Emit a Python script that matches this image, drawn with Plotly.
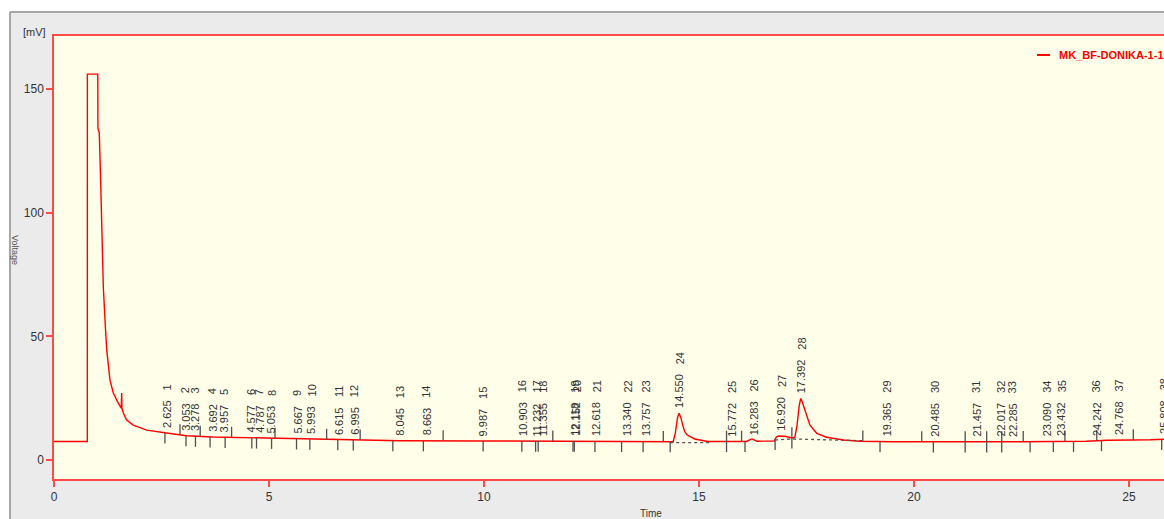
import numpy as np
import plotly.graph_objects as go

# ---------------- data ----------------
time_min = [0.0, 0.775, 0.776, 1.007, 1.018, 1.022, 1.053, 1.086, 1.109, 1.133, 1.147, 1.186,
            1.226, 1.302, 1.379, 1.495, 1.565, 1.574, 1.58, 1.612, 1.69, 1.844, 2.156, 2.62,
            3.086, 3.70, 4.79, 6.0, 8.05, 10.0, 12.0, 14.40, 14.45, 14.50, 14.535, 14.58,
            14.63, 14.67, 14.72, 14.79, 14.90, 15.02, 15.20, 16.10, 16.23, 16.35, 16.75,
            16.80, 16.85, 17.00, 17.08, 17.16, 17.23, 17.28, 17.33, 17.365, 17.40, 17.47,
            17.58, 17.74, 17.97, 18.36, 18.74, 19.50, 21.0, 22.5, 24.0, 24.5, 25.5, 25.82]
voltage_mv = [7.5, 7.5, 156.0, 156.0, 156.0, 134.0, 132.2, 112.0, 97.0, 80.8, 69.9, 56.6,
              44.5, 32.3, 27.1, 23.0, 21.0, 27.1, 21.0, 19.0, 16.2, 14.1, 12.1, 10.9,
              9.8, 9.3, 8.9, 8.4, 7.8, 7.7, 7.6, 7.4, 11.0, 17.0, 18.9, 17.0,
              13.5, 11.4, 10.2, 9.4, 8.5, 8.1, 7.5, 7.5, 8.5, 7.6, 7.7,
              9.3, 9.7, 9.6, 9.1, 8.9, 9.2, 14.0, 22.0, 24.9, 23.5, 19.5,
              14.1, 10.8, 9.2, 8.1, 7.6, 7.4, 7.3, 7.4, 7.6, 8.0, 8.2, 8.4]

peak_numbers = list(range(1, 39))
peak_times = ["2.625", "3.053", "3.278", "3.692", "3.957", "4.577", "4.787", "5.053",
              "5.667", "5.993", "6.615", "6.995", "8.045", "8.663", "9.987", "10.903",
              "11.232", "11.355", "12.118", "12.152", "12.618", "13.340", "13.757", "14.550",
              "15.772", "16.283", "16.920", "17.392", "19.365", "20.485", "21.457", "22.017",
              "22.285", "23.090", "23.432", "24.242", "24.768", "25.808"]

marks_below = [2.58, 3.07, 3.29, 3.63, 3.98, 4.60, 4.71, 5.06, 5.64, 5.95, 6.60, 6.96, 7.88,
               8.59, 9.98, 10.88, 11.20, 11.26, 12.07, 12.10, 12.58, 13.20, 13.70, 14.33,
               15.64, 16.07, 16.77, 17.16, 19.21, 20.45, 21.19, 21.69, 22.04, 22.70, 23.24,
               23.71, 24.36, 25.76]
marks_above = [2.93, 3.40, 4.13, 5.14, 6.34, 7.12, 9.05, 11.60, 14.17, 15.64, 15.99, 17.16,
               18.81, 20.18, 21.19, 21.69, 22.04, 22.54, 23.51, 24.25, 25.10]

baseline_a_x = [14.33, 15.26]
baseline_a_y = [7.0, 7.0]
baseline_b_x = [16.77, 17.16, 18.81]
baseline_b_y = [8.1, 8.5, 7.8]

x_ticks = [0, 5, 10, 15, 20, 25]
y_ticks = [0, 50, 100, 150]
series_name = "MK_BF-DONIKA-1-1"

# ---------------- layout geometry ----------------
W, H = 1164, 519
L, T, B, R = 54, 36, 40, 0
PW, PH = W - L - R, H - T - B
X_RANGE = [0, 25.814]
Y_RANGE = [-7.68, 171.4]

def px_x(px):
    return (px - L) / PW

def px_y(py):
    return (H - B - py) / PH

RED = "#ff0000"
BORDER = "#ff4a4a"
FONT = "Liberation Sans, Arial, sans-serif"
TXT = "#333333"

fig = go.Figure()

# chromatogram
fig.add_trace(go.Scatter(x=time_min, y=voltage_mv, mode="lines",
                         line=dict(color=RED, width=1.4), name=series_name,
                         showlegend=False, hoverinfo="skip"))

# dotted baselines
for bx, by in [(baseline_a_x, baseline_a_y), (baseline_b_x, baseline_b_y)]:
    fig.add_trace(go.Scatter(x=bx, y=by, mode="lines",
                             line=dict(color="#555555", width=1.3, dash="dot"),
                             showlegend=False, hoverinfo="skip"))

# peak start / end markers
tick_len = 4.3
mx, my = [], []
for t in marks_below:
    c = float(np.interp(t, time_min, voltage_mv))
    mx += [t, t, None]
    my += [c, c - tick_len, None]
for t in marks_above:
    c = float(np.interp(t, time_min, voltage_mv))
    mx += [t, t, None]
    my += [c, c + tick_len, None]
fig.add_trace(go.Scatter(x=mx, y=my, mode="lines",
                         line=dict(color="#505050", width=1.3),
                         showlegend=False, hoverinfo="skip"))

# peak labels
def text_len(s):
    return sum(3.1 if ch == "." else 6.1 for ch in s)

for num, ts in zip(peak_numbers, peak_times):
    t = float(ts)
    near = [v for tt, v in zip(time_min, voltage_mv) if abs(tt - t) <= 0.04]
    c = max([float(np.interp(t, time_min, voltage_mv))] + near)
    fig.add_annotation(x=t, y=c, xref="x", yref="y", text=ts, textangle=-90,
                       showarrow=False, xanchor="center", yanchor="bottom",
                       yshift=4, borderpad=0,
                       font=dict(family=FONT, size=11, color=TXT))
    fig.add_annotation(x=t, y=c, xref="x", yref="y", text=str(num), textangle=-90,
                       showarrow=False, xanchor="center", yanchor="bottom",
                       yshift=4 + text_len(ts) + 10, borderpad=0,
                       font=dict(family=FONT, size=11, color=TXT))

# legend-like label (cut at the right edge as in the original)
fig.add_shape(type="line", xref="paper", yref="paper",
              x0=px_x(1037), x1=px_x(1050), y0=px_y(55), y1=px_y(55),
              line=dict(color=RED, width=2))
fig.add_annotation(xref="paper", yref="paper", x=px_x(1057), y=px_y(55),
                   text="<b>" + series_name + "</b>", showarrow=False,
                   xanchor="left", yanchor="middle",
                   font=dict(family=FONT, size=11, color=RED))

# axis titles
fig.add_annotation(xref="paper", yref="paper", x=px_x(34), y=px_y(32), text="[mV]",
                   showarrow=False, xanchor="center", yanchor="middle",
                   font=dict(family=FONT, size=11, color=TXT))
fig.add_annotation(xref="paper", yref="paper", x=px_x(15), y=px_y(250), text="Voltage",
                   textangle=90, showarrow=False, xanchor="center", yanchor="middle",
                   font=dict(family=FONT, size=9, color="#555555"))
fig.add_annotation(xref="paper", yref="paper", x=px_x(651), y=px_y(513), text="Time",
                   showarrow=False, xanchor="center", yanchor="middle",
                   font=dict(family=FONT, size=10, color=TXT))

# outer frame: white margin strips + gray frame lines
fig.add_shape(type="rect", xref="paper", yref="paper", layer="below",
              x0=px_x(0), x1=px_x(W), y0=px_y(0), y1=px_y(11), fillcolor="white",
              line=dict(width=0))
fig.add_shape(type="rect", xref="paper", yref="paper", layer="below",
              x0=px_x(0), x1=px_x(9), y0=px_y(0), y1=px_y(H), fillcolor="white",
              line=dict(width=0))
fig.add_shape(type="line", xref="paper", yref="paper",
              x0=px_x(10), x1=px_x(W), y0=px_y(12), y1=px_y(12),
              line=dict(color="#a6a6a6", width=2))
fig.add_shape(type="line", xref="paper", yref="paper",
              x0=px_x(10), x1=px_x(10), y0=px_y(12), y1=px_y(H),
              line=dict(color="#a6a6a6", width=2))

fig.update_layout(
    width=W, height=H,
    margin=dict(l=L, r=R, t=T, b=B, autoexpand=False),
    paper_bgcolor="#ebebeb",
    plot_bgcolor="#fefee9",
    showlegend=False,
    font=dict(family=FONT, size=12, color=TXT),
)
fig.update_xaxes(range=X_RANGE, tickvals=x_ticks, ticktext=[str(v) for v in x_ticks],
                 showgrid=False, zeroline=False, showline=True, mirror=True,
                 linecolor=BORDER, linewidth=1.5, ticks="outside", ticklen=6,
                 tickcolor=BORDER, tickwidth=1.5,
                 tickfont=dict(family=FONT, size=12, color=TXT))
fig.update_yaxes(range=Y_RANGE, tickvals=y_ticks, ticktext=[str(v) for v in y_ticks],
                 showgrid=False, zeroline=False, showline=True, mirror=False,
                 linecolor=BORDER, linewidth=1.5, ticks="outside", ticklen=6,
                 tickcolor=BORDER, tickwidth=1.5,
                 tickfont=dict(family=FONT, size=12, color=TXT))

fig.write_html("out.html")
